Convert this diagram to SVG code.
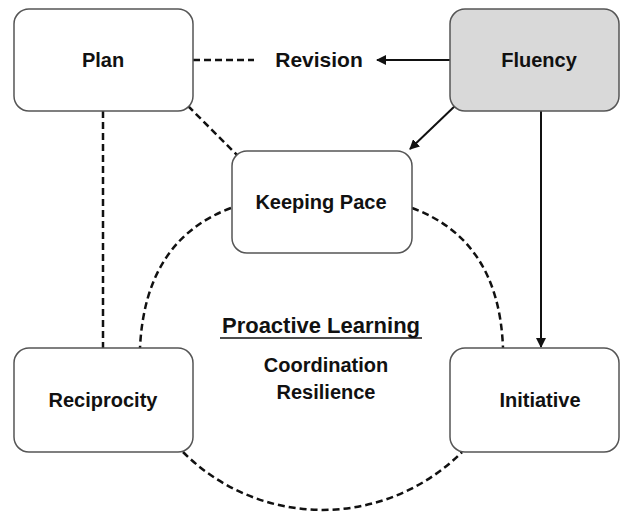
<svg xmlns="http://www.w3.org/2000/svg" width="621" height="515" viewBox="0 0 621 515">
<style>
.box{fill:#fff;stroke:#555;stroke-width:1.5}
.grey{fill:#d9d9d9}
.lbl{font-family:"Liberation Sans",Arial,sans-serif;font-weight:bold;font-size:20px;fill:#111;text-anchor:middle}
.dash{fill:none;stroke:#111;stroke-width:2.5;stroke-dasharray:7 4}
.solid{fill:none;stroke:#111;stroke-width:2}
</style>
<defs>
<marker id="ah" viewBox="0 0 10 10" refX="9" refY="5" markerWidth="5" markerHeight="5" orient="auto" markerUnits="strokeWidth">
<path d="M0,0 L10,5 L0,10 z" fill="#111"/>
</marker>
</defs>
<rect width="621" height="515" fill="#fff"/>
<g id="connectors">
<line class="dash" x1="193" y1="60" x2="254" y2="60"/>
<line class="dash" x1="188" y1="106" x2="237" y2="155"/>
<line class="dash" x1="103" y1="111" x2="103" y2="348"/>
<path class="dash" d="M231,208 Q145,240 140,348"/>
<path class="dash" d="M412,208 Q499,240 503,348"/>
<path class="dash" d="M183,452 A197,197 0 0 0 462,452"/>
<line class="solid" x1="450" y1="60" x2="377" y2="60" marker-end="url(#ah)"/>
<line class="solid" x1="457" y1="104" x2="410" y2="149" marker-end="url(#ah)"/>
<line class="solid" x1="541" y1="111" x2="541" y2="347" marker-end="url(#ah)"/>
</g>
<g id="plan"><rect class="box" x="14" y="9" width="179" height="102" rx="15"/><text class="lbl" x="103" y="67">Plan</text></g>
<g id="fluency"><rect class="box grey" x="450" y="9" width="169" height="102" rx="15"/><text class="lbl" x="539" y="67">Fluency</text></g>
<g id="revision"><text class="lbl" x="319" y="67" style="font-size:21px">Revision</text></g>
<g id="keeping-pace"><rect class="box" x="232" y="151" width="180" height="102" rx="15"/><text class="lbl" x="321" y="209">Keeping Pace</text></g>
<g id="reciprocity"><rect class="box" x="14" y="348" width="179" height="104" rx="15"/><text class="lbl" x="103" y="407">Reciprocity</text></g>
<g id="initiative"><rect class="box" x="450" y="348" width="169" height="104" rx="15"/><text class="lbl" x="540" y="407">Initiative</text></g>
<g id="proactive-learning">
<text class="lbl" x="321" y="333" style="font-size:22px">Proactive Learning</text>
<line x1="220" y1="338" x2="422" y2="338" stroke="#111" stroke-width="1.5"/>
<text class="lbl" x="326" y="372">Coordination</text>
<text class="lbl" x="326" y="399">Resilience</text>
</g>
</svg>
